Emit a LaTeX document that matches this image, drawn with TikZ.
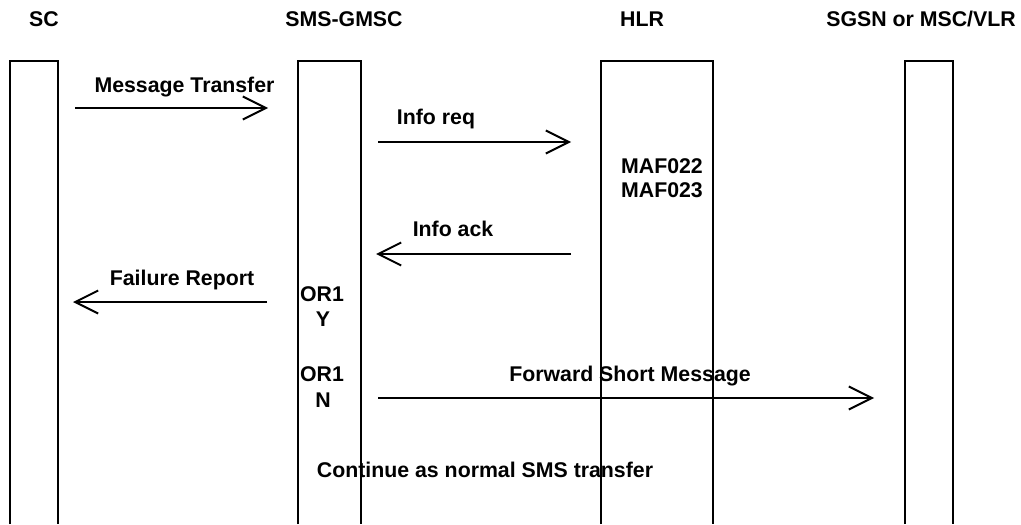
\documentclass[tikz,border=0pt]{standalone}
\usepackage{fontspec}
\setmainfont{Liberation Sans}
\usepackage{tikz}
\usetikzlibrary{arrows.meta,positioning}

\begin{document}
\begin{tikzpicture}[x=0.5pt,y=-0.5pt,line width=1pt,
    lbl/.style={anchor=base,inner sep=0pt,font=\fontsize{10.65}{12}\selectfont\bfseries},
    msg/.style={-{Straight Barb[length=11.5pt,width=11.5pt]}}]
    \useasboundingbox (0,0) rectangle (1021,524);
    % headers
    \node[lbl] (sc) at (44,27) {SC};
    \node[lbl] (gmsc) at (344,27) {SMS-GMSC};
    \node[lbl] (hlr) at (642,27) {HLR};
    \node[lbl] (vlr) at (921,27) {SGSN or MSC/VLR};
    % lifelines
    \draw (10,524) -- (10,61) -- (58,61) -- (58,524);
    \draw (298,524) -- (298,61) -- (361,61) -- (361,524);
    \draw (601,524) -- (601,61) -- (713,61) -- (713,524);
    \draw (905,524) -- (905,61) -- (953,61) -- (953,524);
    % end points of the messages
    \node (mt1) at (75,108) {};
    \node (mt2) at (268,108) {};
    \node (ir1) at (378,142) {};
    \node (ir2) at (571,142) {};
    \node (ia1) at (571,254) {};
    \node (ia2) at (376,254) {};
    \node (fr1) at (267,302) {};
    \node (fr2) at (73,302) {};
    \node (fs1) at (378,398) {};
    \node (fs2) at (874,398) {};
    \draw[msg] (mt1.center) -- (mt2.center);
    \draw[msg] (ir1.center) -- (ir2.center);
    \draw[msg] (ia1.center) -- (ia2.center);
    \draw[msg] (fr1.center) -- (fr2.center);
    \draw[msg] (fs1.center) -- (fs2.center);
    % labels
    \node[lbl] (mtl) at (184.5,93) {Message Transfer};
    \node[lbl] (irl) at (436,125) {Info req};
    \node[lbl] (maf1) at (662,173) {MAF022};
    \node[lbl] (maf2) at (662,197) {MAF023};
    \node[lbl] (ial) at (453,236) {Info ack};
    \node[lbl] (frl) at (182,285) {Failure Report};
    \node[lbl] (or1y) at (322,301) {OR1};
    \node[lbl] (y) at (323,326) {Y};
    \node[lbl] (or1n) at (322,381) {OR1};
    \node[lbl] (n) at (323,407) {N};
    \node[lbl] (fsl) at (630,381) {Forward Short Message};
    \node[lbl] (cont) at (485,477) {Continue as normal SMS transfer};
\end{tikzpicture}
\end{document}
